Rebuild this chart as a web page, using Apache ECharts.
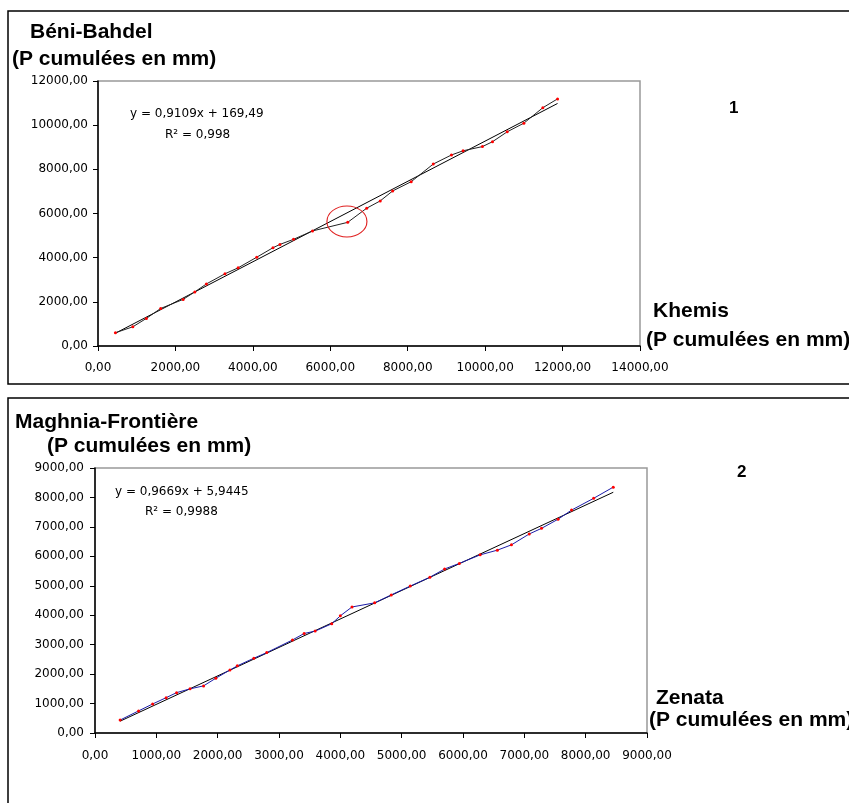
<!DOCTYPE html>
<html>
<head>
<meta charset="utf-8">
<script src="https://cdn.jsdelivr.net/npm/echarts@6/dist/echarts.min.js"></script>
<style>
html,body{margin:0;padding:0;background:#fff;}
#c{width:849px;height:803px;}
</style>
</head>
<body>
<div id="c"></div>
<script>
// Chart 1 : Khemis (x) vs Béni-Bahdel (y), cumulative precipitation (mm)
const khemisX = [450,900,1250,1620,2200,2500,2800,3280,3620,4100,4520,4700,5050,5540,6450,6940,7290,7610,8090,8660,9130,9430,9930,10190,10570,11000,11490,11870];
const beniY   = [600,870,1250,1700,2110,2450,2810,3270,3540,4020,4450,4600,4830,5210,5600,6240,6570,7020,7440,8240,8650,8840,9030,9250,9700,10090,10790,11190];
const trend1X = [450, 11870];
const trend1Y = [579, 10982];
const circled1 = [6430, 5640];

// Chart 2 : Zenata (x) vs Maghnia-Frontière (y)
const zenataX  = [410,710,940,1160,1330,1550,1770,1970,2200,2320,2590,2800,3220,3410,3590,3860,4000,4190,4560,4830,5140,5460,5700,5940,6280,6560,6790,7080,7280,7550,7770,8130,8450];
const maghniaY = [440,750,985,1200,1370,1500,1600,1860,2140,2280,2540,2730,3160,3380,3460,3710,3980,4280,4420,4690,4990,5290,5570,5760,6050,6210,6390,6760,6950,7260,7570,7970,8350];
const trend2X = [410, 8450];
const trend2Y = [402, 8176];

const xTicks1 = {min:0, max:14000, interval:2000};
const yTicks1 = {min:0, max:12000, interval:2000};
const xTicks2 = {min:0, max:9000, interval:1000};
const yTicks2 = {min:0, max:9000, interval:1000};

const pairs = (xs, ys) => xs.map((x, i) => [x, ys[i]]);
const fmt = v => v.toFixed(2).replace('.', ',');
const FONT = 'Arial, "Liberation Sans", sans-serif';
const SMALL = '"DejaVu Sans", sans-serif';

function axis(gi, t, margin) {
  return {
    type: 'value', gridIndex: gi, min: t.min, max: t.max, interval: t.interval,
    axisLine: {show: true, onZero: false, lineStyle: {color: '#000', width: 1.5}},
    axisTick: {show: true, inside: false, length: 5, lineStyle: {color: '#000'}},
    axisLabel: {formatter: fmt, color: '#000', fontSize: 12, fontFamily: SMALL, margin: margin},
    splitLine: {show: false}
  };
}

const chart = echarts.init(document.getElementById('c'), null, {renderer: 'canvas'});

function txt(x, y, s, size, bold, fam) {
  return {type: 'text', x: x, y: y, style: {text: s, fill: '#000', font: (bold ? 'bold ' : '') + size + 'px ' + (fam || FONT), textVerticalAlign: 'middle'}};
}

chart.setOption({
  animation: false,
  backgroundColor: '#fff',
  grid: [
    {left: 98, top: 81, width: 542, height: 265, show: true, borderColor: '#999', borderWidth: 1.5, backgroundColor: '#fff', outerBoundsMode: 'none'},
    {left: 95, top: 468, width: 552, height: 265, show: true, borderColor: '#999', borderWidth: 1.5, backgroundColor: '#fff', outerBoundsMode: 'none'}
  ],
  xAxis: [axis(0, xTicks1, 16), axis(1, xTicks2, 17)],
  yAxis: [axis(0, yTicks1, 10), axis(1, yTicks2, 11)],
  series: [
    {
      type: 'line', xAxisIndex: 0, yAxisIndex: 0, data: pairs(trend1X, trend1Y),
      symbol: 'none', lineStyle: {color: '#000', width: 1}, z: 2
    },
    {
      type: 'line', xAxisIndex: 0, yAxisIndex: 0, data: pairs(khemisX, beniY),
      symbol: 'circle', symbolSize: 3, showSymbol: true,
      itemStyle: {color: '#ff0000'}, lineStyle: {color: '#222', width: 1}, z: 3,
      markPoint: {
        symbol: 'circle', symbolSize: [40, 31],
        itemStyle: {color: 'rgba(0,0,0,0)', borderColor: '#e02020', borderWidth: 1},
        label: {show: false},
        data: [{coord: circled1}]
      }
    },
    {
      type: 'line', xAxisIndex: 1, yAxisIndex: 1, data: pairs(trend2X, trend2Y),
      symbol: 'none', lineStyle: {color: '#000', width: 1}, z: 2
    },
    {
      type: 'line', xAxisIndex: 1, yAxisIndex: 1, data: pairs(zenataX, maghniaY),
      symbol: 'circle', symbolSize: 3, showSymbol: true,
      itemStyle: {color: '#ff0000'}, lineStyle: {color: '#1c1ca8', width: 1}, z: 3
    }
  ],
  graphic: [
    {type: 'rect', shape: {x: 8, y: 11, width: 870, height: 373}, style: {fill: 'none', stroke: '#000', lineWidth: 1.5}, z: -1},
    {type: 'rect', shape: {x: 8, y: 398, width: 870, height: 430}, style: {fill: 'none', stroke: '#000', lineWidth: 1.5}, z: -1},
    txt(30, 32, 'Béni-Bahdel', 21, true),
    txt(12, 59, '(P cumulées en mm)', 21, true),
    txt(729, 108, '1', 17, true),
    txt(653, 311, 'Khemis', 21, true),
    txt(646, 340, '(P cumulées en mm)', 21, true),
    txt(130, 114, 'y = 0,9109x + 169,49', 12, false, SMALL),
    txt(165, 135, 'R² = 0,998', 12, false, SMALL),
    txt(15, 422, 'Maghnia-Frontière', 21, true),
    txt(47, 446, '(P cumulées en mm)', 21, true),
    txt(737, 472, '2', 17, true),
    txt(656, 698, 'Zenata', 21, true),
    txt(649, 720, '(P cumulées en mm)', 21, true),
    txt(115, 492, 'y = 0,9669x + 5,9445', 12, false, SMALL),
    txt(145, 512, 'R² = 0,9988', 12, false, SMALL)
  ]
});
</script>
</body>
</html>
